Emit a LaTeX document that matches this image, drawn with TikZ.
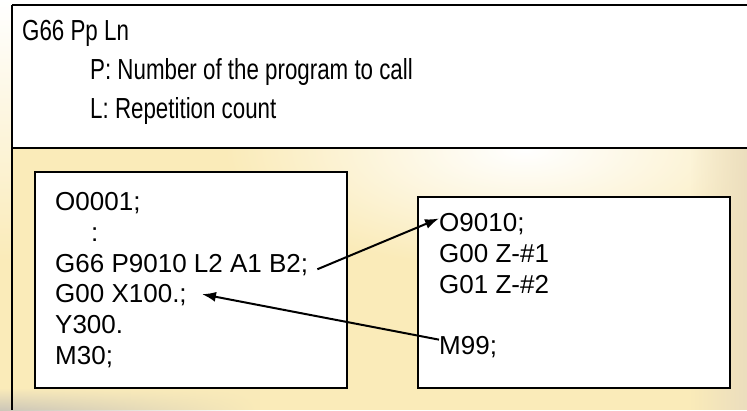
\documentclass[tikz,border=0pt]{standalone}
\usepackage{fontspec}
\setmainfont{Liberation Sans}
\usetikzlibrary{arrows.meta,fadings}

\definecolor{cream}{RGB}{250,235,185}
\definecolor{rim}{RGB}{236,222,190}
\definecolor{smudge}{RGB}{205,199,184}

% narrow face for the syntax lines
\newcommand{\narrow}[1]{\scalebox{0.77}[1]{#1}}

\begin{document}
\begin{tikzpicture}[x=1pt,y=-1pt,>={Latex[length=14pt,width=10pt]},
    frame/.style={line width=1.8pt},
    codebox/.style={draw=black, line width=2pt, fill=white},
    headline/.style={anchor=base west, inner sep=0pt, font=\fontsize{29}{34}\selectfont},
    codeline/.style={anchor=north west, inner sep=0pt, text height=22pt, text depth=8.5pt, font=\fontsize{26}{30.5}\selectfont},
    call/.style={->, line width=2pt}]
        \useasboundingbox (0,0) rectangle (747,410);
        \clip (0,0) rectangle (747,410);
        % backdrop
        \shade [top color=white, bottom color=cream] (0,0) rectangle (12,260);
        \fill [cream] (0,259) rectangle (12,410);
        \begin{scope}
            \clip (12,148) rectangle (747,410);
            \fill [cream] (12,148) rectangle (747,410);
            \shade [inner color=white, outer color=cream] (525,150) ellipse (300 and 120);
            \fill [rim, path fading=west] (690,148) rectangle (747,410);
        \end{scope}
        \shade [top color=cream, bottom color=smudge, path fading=east] (0,388) rectangle (260,410);
        % frame
        \draw [frame] (12,5) -- (747,5);
        \draw [frame] (12,5) -- (12,410);
        \draw [frame] (12,148) -- (747,148);
        % syntax
        \node [headline] at (22,40) (syntax) {\narrow{G66 Pp Ln}};
        \node [headline] at (90,79) (pword) {\narrow{P: Number of the program to call}};
        \node [headline] at (90,118) (lword) {\narrow{L: Repetition count}};
        % main program
        \draw [codebox] (35,172) rectangle (347,388);
        \node [codeline] at (55,188) (main) {O0001;};
        \node [codeline] at (main.south west) (dots) {\hspace*{36pt}:};
        \node [codeline] at (dots.south west) (callmac) {G66 P9010 L2 A1 B2;};
        \node [codeline] at (callmac.south west) (back) {G00 X100.;};
        \node [codeline] at (back.south west) (ymove) {Y300.};
        \node [codeline] at (ymove.south west) (stop) {M30;};
        % macro
        \draw [codebox] (418,197) rectangle (730,388);
        \node [codeline] at (439,209) (macro) {O9010;};
        \node [codeline] at (macro.south west) (zrapid) {G00 Z-\#1};
        \node [codeline] at (zrapid.south west) (zfeed) {G01 Z-\#2};
        \node [codeline] at ([yshift=-30.5pt]zfeed.south west) (ret) {M99;};
        % call and return
        \draw [call] ([xshift=9pt,yshift=-4pt]callmac.east) -- ([yshift=6pt]macro.west);
        \draw [call] ([yshift=8pt]ret.west) -- ([xshift=15pt,yshift=2pt]back.east);
\end{tikzpicture}
\end{document}
